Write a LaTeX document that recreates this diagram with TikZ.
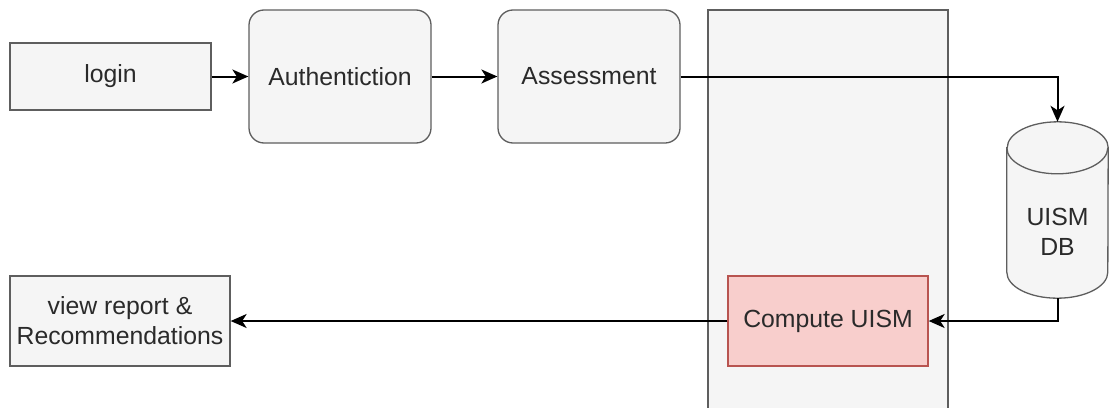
\documentclass[tikz,border=0pt]{standalone}
\usepackage{fontspec}
\setmainfont{Liberation Sans}
\usetikzlibrary{arrows.meta,calc}
\definecolor{boxfill}{HTML}{F5F5F5}
\definecolor{boxline}{HTML}{5E5E5E}
\definecolor{boxtext}{HTML}{2A2A2A}
\definecolor{redfill}{HTML}{F8CECC}
\definecolor{redline}{HTML}{B85450}
\tikzset{
  txt/.style={font=\fontsize{24.8}{30}\selectfont, text=boxtext, align=center},
  plainbox/.style={txt, draw=boxline, fill=boxfill, line width=1.3pt, inner sep=0pt},
  roundbox/.style={plainbox, rounded corners=15pt},
  hotbox/.style={txt, draw=redline, fill=redfill, line width=1.3pt, inner sep=0pt},
  flow/.style={draw=black, line width=2pt, -{Stealth[length=16pt,width=14pt,inset=4.5pt]}},
}
\begin{document}
\begin{tikzpicture}[x=1pt,y=-1pt]
  \useasboundingbox (0,0) rectangle (1110,407);
  % white page
  \fill[white] (0,0) rectangle (1110,407);

  % processing lane
  \node[draw=boxline, fill=boxfill, line width=1.3pt, inner sep=0pt,
        minimum width=240pt, minimum height=402pt] (lane) at (828,211) {};

  % top row
  \node[plainbox, minimum width=201pt, minimum height=67pt] (login) at (110.5,76.5) {login};
  \node[roundbox, minimum width=182pt, minimum height=133pt] (auth) at (340,76.5) {Authentiction};
  \node[roundbox, minimum width=182pt, minimum height=133pt] (assess) at (589,76.5) {Assessment};

  % database cylinder
  \node[inner sep=0pt, minimum width=101pt, minimum height=176pt] (db) at (1057.5,210) {};
  \path[draw=boxline, fill=boxfill, line width=1.3pt]
    ($(db.north west)+(0,26)$) -- ($(db.south west)+(0,-26)$)
    arc[start angle=180, end angle=360, x radius=50.5pt, y radius=26pt]
    -- ($(db.north east)+(0,26)$)
    arc[start angle=0, end angle=180, x radius=50.5pt, y radius=26pt] -- cycle;
  \draw[boxline, line width=1.3pt] ($(db.north west)+(0,26)$)
    arc[start angle=180, end angle=360, x radius=50.5pt, y radius=26pt];
  \node[txt] (dblabel) at (1057.5,232) {UISM\\DB};

  % bottom row
  \node[hotbox, minimum width=200pt, minimum height=90pt] (compute) at (828,321) {Compute UISM};
  \node[plainbox, minimum width=220pt, minimum height=90pt] (report) at (120,321) {view report \&\\Recommendations};

  % connectors
  \draw[flow] (login.east) -- (auth.west);
  \draw[flow] (auth.east) -- (assess.west);
  \draw[flow] (assess.east) -| (db.north);
  \draw[flow] (db.south) |- (compute.east);
  \draw[flow] (compute.west) -- (report.east);
\end{tikzpicture}
\end{document}
